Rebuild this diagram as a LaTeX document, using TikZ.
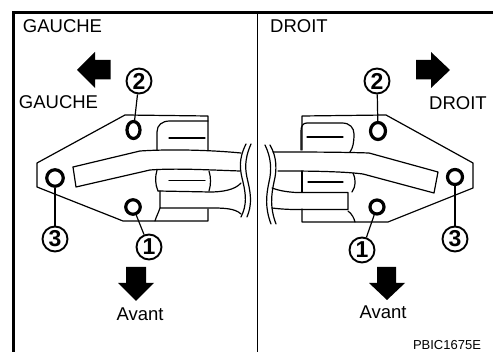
\documentclass[tikz,border=0pt]{standalone}
\usepackage{fontspec}
\setmainfont{Liberation Sans}
\usetikzlibrary{shapes.geometric}
\tikzset{
  lbl/.style={inner sep=0pt,font=\fontsize{18.5}{20}\selectfont},
  small/.style={inner sep=0pt,font=\fontsize{13}{14}\selectfont},
  num/.style={circle,draw,line width=1.9pt,fill=white,minimum size=25pt,inner sep=0pt,font=\fontsize{23}{24}\selectfont\bfseries},
  hole/.style={circle,draw,line width=3.2pt,fill=white,inner sep=0pt},
  oval/.style={ellipse,draw,line width=3.2pt,fill=white,inner sep=0pt,minimum width=13pt,minimum height=17pt},
  part/.style={line width=1.2pt,line join=round,line cap=round},
  lead/.style={line width=1.2pt},
  frame/.style={line width=3pt},
  arrowfill/.style={fill=black,draw=none}
}
\begin{document}
\begin{tikzpicture}[x=1pt,y=-1pt]
\useasboundingbox (0,0) rectangle (493,352);
\fill[white] (0,0) rectangle (493,352);
% frame
\draw[frame] (13.5,352) -- (13.5,12.5) -- (493,12.5);
\draw[line width=1pt] (257,14) -- (257,352);
% ---------- left
\draw[part] (208,150) -- (208,116) -- (125,115) -- (37,163) -- (37,187) -- (123,221) -- (208,221) -- (208,209);
\draw[part] (73,167) -- (140,151) .. controls (170,149) and (210,150) .. (241,153);
\draw[part] (73,167) -- (76,187) -- (150,170) .. controls (175,168) and (210,170) .. (240,171);
\draw[part] (157,150) -- (157,132) .. controls (157,125) and (162,121) .. (170,121) -- (208,121);
\draw[part] (169,138) -- (205,138);
\draw[part] (157,170) .. controls (155,177) and (155,184) .. (158,191);
\draw[part] (169,180.5) -- (205,180.5);
\draw[part] (209,171) .. controls (211,177) and (211,185) .. (209,191);
\draw[part] (158,191) -- (210,192) .. controls (222,192) and (235,190) .. (241,183);
\draw[part] (160,191) -- (160,208) -- (210,208) .. controls (222,208) and (235,208) .. (241,214);
\draw[part] (160,208) .. controls (158,214) and (156,217) .. (155,221);
\draw[part] (246,144) .. controls (238,160) and (240,170) .. (243,182) .. controls (246,195) and (247,205) .. (241,217);
\draw[part] (251,144) .. controls (244,160) and (245,170) .. (248,182) .. controls (251,195) and (252,205) .. (247,217);
\node[oval] (lh2) at (133.5,130) {};
\node[hole,minimum size=16.5pt] (lh3) at (55,178) {};
\node[hole,minimum size=14.5pt] (lh1) at (133,207) {};
\node[num] (ln2) at (139,81) {2};
\node[num] (ln3) at (55,239) {3};
\node[num] (ln1) at (149,247) {1};
\draw[lead] (ln2) -- (lh2);
\draw[lead] (ln3) -- (lh3);
\draw[lead] (ln1) -- (lh1);
\fill[arrowfill] (77,70) -- (95,52) -- (95,60) -- (110.5,60) -- (110.5,79.5) -- (95,79.5) -- (95,88) -- cycle;
\fill[arrowfill] (126,267) -- (146,267) -- (146,283) -- (154,283) -- (136,301) -- (118,283) -- (126,283) -- cycle;
\node[lbl] (lt) at (62.5,26) {GAUCHE};
\node[lbl] (lt2) at (58.5,102) {GAUCHE};
\node[lbl] (lav) at (140,314) {Avant};
% ---------- right
\draw[part] (302,150) -- (302,116) -- (386,115) -- (473,163) -- (473,188) -- (388,222) -- (302,222) -- (302,209);
\draw[part] (302,171) -- (302,192);
\draw[part] (273,152) .. controls (300,152) and (340,152) .. (369,153) -- (438,172) -- (434,193) -- (363,174) .. controls (340,171) and (300,171) .. (278,171);
\draw[part] (301,150) -- (301,131) .. controls (301,126) and (303,123) .. (307,123) -- (342,123) .. controls (350,123) and (354,128) .. (354,134) .. controls (354,142) and (353,148) .. (350,152);
\draw[part] (307,137) -- (343,137);
\draw[part] (353,173) .. controls (356,180) and (356,186) .. (352,192);
\draw[part] (308,182) -- (343,182);
\draw[part] (272,188) .. controls (280,191) and (288,192) .. (296,192.5) -- (348,192.5) -- (348,209.5) -- (296,209.5) .. controls (288,209.5) and (280,209) .. (272,208);
\draw[part] (348,211) .. controls (352,214) and (354,218) .. (355,222);
\draw[part] (265,145) .. controls (271,157) and (272,170) .. (269,182) .. controls (266,196) and (265,208) .. (271,224);
\draw[part] (270,145) .. controls (277,157) and (277,170) .. (274,182) .. controls (271,196) and (270,208) .. (276,224);
\node[oval,minimum width=15pt] (rh2) at (378,131) {};
\node[hole,minimum size=15pt] (rh3) at (455,177) {};
\node[hole,minimum size=14pt] (rh1) at (377,207) {};
\node[num] (rn2) at (377,81) {2};
\node[num] (rn3) at (455,239) {3};
\node[num] (rn1) at (362,250) {1};
\draw[lead] (rn2) -- (rh2);
\draw[lead] (rn3) -- (rh3);
\draw[lead] (rn1) -- (rh1);
\fill[arrowfill] (450,70) -- (431,52) -- (431,60) -- (416,60) -- (416,79.5) -- (431,79.5) -- (431,88) -- cycle;
\fill[arrowfill] (377,267) -- (396,267) -- (396,283) -- (405,283) -- (387,300) -- (369,283) -- (377,283) -- cycle;
\node[lbl] (rt) at (299,26) {DROIT};
\node[lbl] (rt2) at (458,103) {DROIT};
\node[lbl] (rav) at (383,312) {Avant};
\node[small] (code) at (447,345.5) {PBIC1675E};
\end{tikzpicture}
\end{document}
